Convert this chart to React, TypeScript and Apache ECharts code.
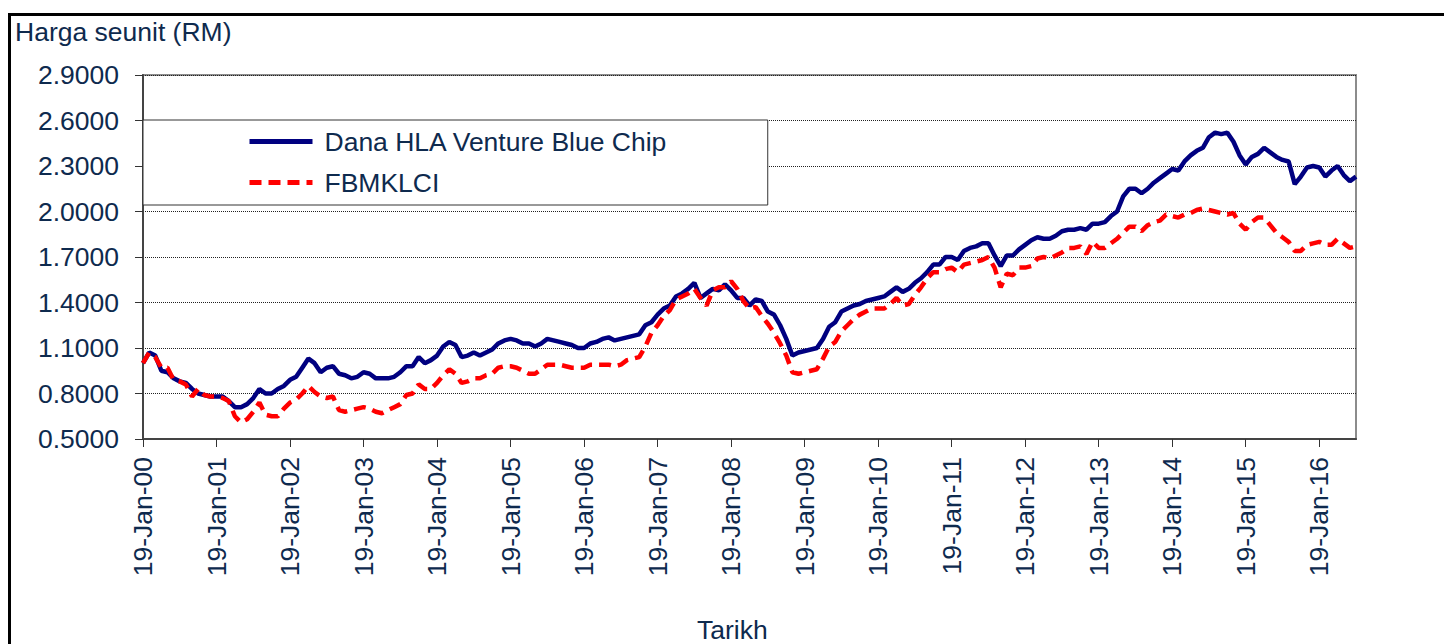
import React, { useEffect, useRef } from "react";
import * as echarts from "echarts";

const MONTHS = ["Jan", "Feb", "Mar", "Apr", "May", "Jun", "Jul", "Aug", "Sep", "Oct", "Nov", "Dec"];
const START_YEAR = 2000;

const FUND_NAME = "Dana HLA Venture Blue Chip";
const INDEX_NAME = "FBMKLCI";

// Monthly unit prices, Jan 2000 .. Jul 2016
const fundValues = [
  1.00, 1.07, 1.05, 0.95, 0.94, 0.90, 0.88, 0.87, 0.83, 0.80, 0.79, 0.78,
  0.78, 0.78, 0.75, 0.71, 0.71, 0.73, 0.77, 0.83, 0.80, 0.80, 0.83, 0.85,
  0.89, 0.91, 0.97, 1.03, 1.00, 0.94, 0.97, 0.98, 0.93, 0.92, 0.90, 0.91,
  0.94, 0.93, 0.90, 0.90, 0.90, 0.91, 0.94, 0.98, 0.98, 1.04, 1.00, 1.02,
  1.05, 1.11, 1.14, 1.12, 1.04, 1.05, 1.07, 1.05, 1.07, 1.09, 1.13, 1.15,
  1.16, 1.15, 1.13, 1.13, 1.11, 1.13, 1.16, 1.15, 1.14, 1.13, 1.12, 1.10,
  1.10, 1.13, 1.14, 1.16, 1.17, 1.15, 1.16, 1.17, 1.18, 1.19, 1.25, 1.27,
  1.32, 1.36, 1.38, 1.44, 1.46, 1.49, 1.53, 1.43, 1.46, 1.49, 1.48, 1.52,
  1.48, 1.43, 1.43, 1.38, 1.42, 1.41, 1.34, 1.32, 1.25, 1.16, 1.05, 1.07,
  1.08, 1.09, 1.10, 1.16, 1.24, 1.27, 1.34, 1.36, 1.38, 1.39, 1.41, 1.42,
  1.43, 1.44, 1.47, 1.50, 1.47, 1.49, 1.53, 1.56, 1.60, 1.65, 1.65, 1.70,
  1.70, 1.68, 1.74, 1.76, 1.77, 1.79, 1.79, 1.71, 1.64, 1.71, 1.71, 1.75,
  1.78, 1.81, 1.83, 1.82, 1.82, 1.84, 1.87, 1.88, 1.88, 1.89, 1.88, 1.92,
  1.92, 1.93, 1.97, 2.00, 2.10, 2.15, 2.15, 2.12, 2.15, 2.19, 2.22, 2.25,
  2.28, 2.27, 2.33, 2.37, 2.40, 2.42, 2.49, 2.52, 2.51, 2.52, 2.46, 2.37,
  2.31, 2.36, 2.38, 2.42, 2.39, 2.36, 2.34, 2.33, 2.18, 2.23, 2.29, 2.30,
  2.29, 2.23, 2.27, 2.30, 2.24, 2.20, 2.23,
];

const indexValues = [
  1.00, 1.07, 1.04, 0.97, 0.97, 0.89, 0.88, 0.86, 0.78, 0.83, 0.79, 0.78,
  0.78, 0.77, 0.75, 0.65, 0.61, 0.63, 0.68, 0.74, 0.66, 0.65, 0.65, 0.70,
  0.74, 0.76, 0.80, 0.85, 0.81, 0.78, 0.77, 0.78, 0.69, 0.68, 0.69, 0.70,
  0.71, 0.70, 0.68, 0.67, 0.69, 0.71, 0.73, 0.79, 0.80, 0.86, 0.83, 0.83,
  0.87, 0.92, 0.96, 0.93, 0.87, 0.88, 0.90, 0.90, 0.92, 0.93, 0.97, 0.98,
  0.98, 0.97, 0.95, 0.93, 0.93, 0.96, 0.99, 0.99, 0.99, 0.98, 0.97, 0.97,
  0.97, 0.99, 0.99, 0.99, 0.99, 0.98, 0.99, 1.02, 1.03, 1.04, 1.11, 1.20,
  1.25, 1.31, 1.35, 1.42, 1.44, 1.46, 1.49, 1.43, 1.38, 1.48, 1.50, 1.50,
  1.54, 1.49, 1.41, 1.36, 1.37, 1.31, 1.26, 1.20, 1.13, 1.05, 0.94, 0.93,
  0.94, 0.95, 0.96, 1.03, 1.11, 1.14, 1.21, 1.25, 1.29, 1.32, 1.34, 1.36,
  1.36, 1.36, 1.39, 1.43, 1.38, 1.39, 1.45, 1.50, 1.56, 1.60, 1.60, 1.62,
  1.63, 1.60, 1.65, 1.66, 1.67, 1.68, 1.70, 1.63, 1.50, 1.59, 1.58, 1.63,
  1.63, 1.64, 1.69, 1.70, 1.69, 1.71, 1.73, 1.76, 1.76, 1.77, 1.72, 1.80,
  1.76, 1.76, 1.79, 1.82, 1.86, 1.90, 1.90, 1.87, 1.91, 1.93, 1.94, 1.98,
  1.97, 1.96, 1.98, 1.99, 2.01, 2.02, 2.01, 2.00, 1.99, 1.98, 1.99, 1.92,
  1.88, 1.93, 1.96, 1.96, 1.91, 1.86, 1.83, 1.80, 1.74, 1.74, 1.78, 1.79,
  1.80, 1.78, 1.78, 1.82, 1.79, 1.76, 1.77,
];

const categories = fundValues.map((_, i) => {
  const yy = String((START_YEAR + Math.floor(i / 12)) % 100).padStart(2, "0");
  return `19-${MONTHS[i % 12]}-${yy}`;
});

const Y_MIN = 0.5;
const Y_MAX = 2.9;
const Y_STEP = 0.3;

const TEXT_COLOR = "#0e2a4e";
const FONT = '"Liberation Sans", Arial, sans-serif';
const FS = 26.5;

export default function App() {
  const ref = useRef<HTMLDivElement>(null);

  useEffect(() => {
    if (!ref.current) return;
    const chart = echarts.init(ref.current, null, { renderer: "svg" });
    chart.setOption({
      animation: false,
      backgroundColor: "#ffffff",
      textStyle: { fontFamily: FONT },
      grid: {
        left: 143,
        right: 88,
        top: 75,
        bottom: 205,
        show: true,
        borderColor: "#8c8c8c",
        borderWidth: 2,
        backgroundColor: "transparent",
      },
      legend: {
        orient: "vertical",
        left: 143,
        top: 120,
        padding: [8, 100, 9, 104],
        itemGap: 14,
        itemWidth: 63,
        itemHeight: 26,
        backgroundColor: "#ffffff",
        borderColor: "#333333",
        borderWidth: 1,
        itemStyle: { opacity: 0 },
        lineStyle: { width: 5 },
        textStyle: {
          fontSize: FS,
          color: TEXT_COLOR,
          fontFamily: FONT,
          lineHeight: 26,
          padding: [0, 0, 0, 7],
        },
        data: [FUND_NAME, INDEX_NAME],
      },
      xAxis: {
        type: "category",
        data: categories,
        boundaryGap: false,
        axisLine: { lineStyle: { color: "#444444", width: 2 } },
        axisTick: { interval: 11, length: 8, lineStyle: { color: "#333333", width: 1 } },
        axisLabel: {
          interval: 11,
          rotate: 90,
          margin: 18,
          fontSize: FS,
          color: TEXT_COLOR,
          fontFamily: FONT,
        },
        splitLine: { show: false },
      },
      yAxis: {
        type: "value",
        min: Y_MIN,
        max: Y_MAX,
        interval: Y_STEP,
        axisLine: { show: true, lineStyle: { color: "#444444", width: 2 } },
        axisTick: { show: true, length: 8, lineStyle: { color: "#333333", width: 1 } },
        axisLabel: {
          margin: 24,
          fontSize: FS,
          color: TEXT_COLOR,
          fontFamily: FONT,
          formatter: (v: number) => v.toFixed(4),
        },
        splitLine: { show: true, lineStyle: { color: "#222222", width: 1, type: [1, 1] } },
      },
      series: [
        {
          name: FUND_NAME,
          type: "line",
          data: fundValues,
          symbol: "none",
          lineStyle: { color: "#000080", width: 4.5 },
          itemStyle: { color: "#000080" },
        },
        {
          name: INDEX_NAME,
          type: "line",
          data: indexValues,
          symbol: "none",
          lineStyle: { color: "#ff0000", width: 4.5, type: [12, 7] },
          itemStyle: { color: "#ff0000" },
        },
      ],
      graphic: [
        {
          type: "text",
          left: 15,
          top: 18,
          style: { text: "Harga seunit (RM)", fontSize: FS, fontFamily: FONT, fill: TEXT_COLOR },
        },
        {
          type: "text",
          left: 697,
          top: 616,
          style: { text: "Tarikh", fontSize: FS, fontFamily: FONT, fill: TEXT_COLOR },
        },
      ],
    });
    return () => chart.dispose();
  }, []);

  return (
    <div style={{ position: "fixed", left: 0, top: 0, width: 1444, height: 644, background: "#fff", overflow: "hidden" }}>
      <div ref={ref} style={{ position: "absolute", left: 0, top: 0, width: 1444, height: 644 }} />
      <div
        style={{
          position: "absolute",
          left: 8,
          top: 13,
          width: 1460,
          height: 660,
          borderLeft: "3px solid #000",
          borderTop: "3px solid #000",
          pointerEvents: "none",
        }}
      />
    </div>
  );
}
